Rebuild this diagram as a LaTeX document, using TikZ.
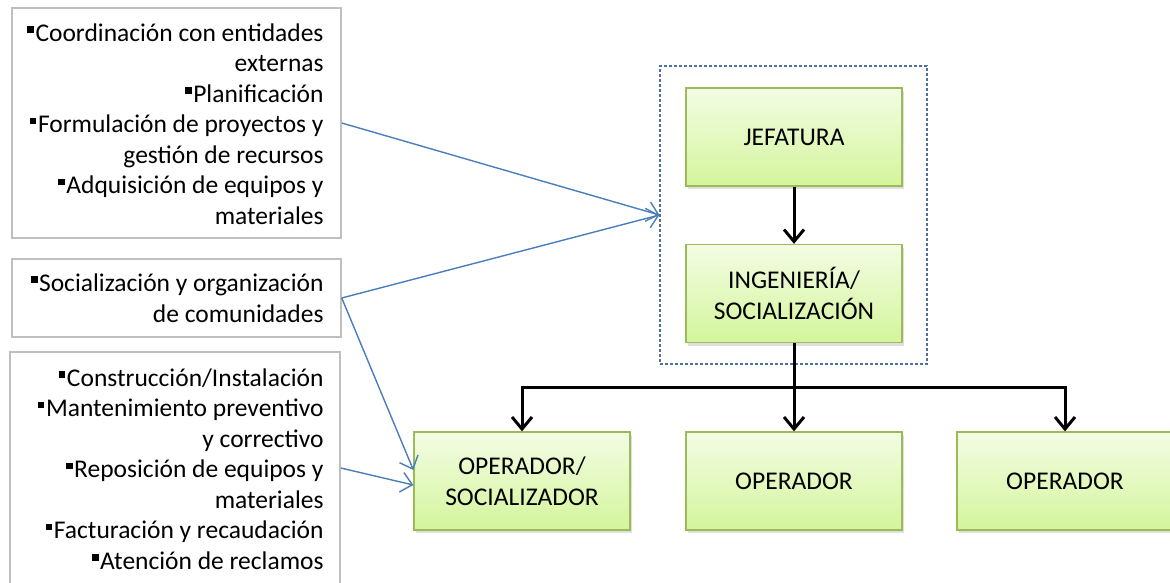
\documentclass[tikz,border=0pt]{standalone}
\usepackage{fontspec}
\setmainfont{Carlito}
\usetikzlibrary{arrows.meta,shadows}
\definecolor{greyline}{RGB}{191,191,191}
\definecolor{greenline}{RGB}{155,187,89}
\definecolor{greentop}{RGB}{243,252,228}
\definecolor{greenbot}{RGB}{212,245,156}
\definecolor{linkblue}{RGB}{74,126,187}
\definecolor{groupblue}{RGB}{79,111,160}
\newcommand\bul{\raisebox{0.33em}{\rule{0.26em}{0.26em}}\kern0.06em}
\tikzset{
  listbox/.style={draw=greyline, line width=1.5pt, fill=white, inner sep=0pt},
  listtext/.style={anchor=east, align=right, inner sep=0pt,
    font=\fontsize{25.5}{30.5}\selectfont},
  unit/.style={draw=greenline, line width=1.3pt, top color=greentop, bottom color=greenbot,
    minimum width=216pt, minimum height=98pt, inner sep=0pt, align=center,
    font=\fontsize{25.5}{30.5}\selectfont,
    drop shadow={opacity=0.25, shadow xshift=2pt, shadow yshift=-3pt}},
  group/.style={draw=groupblue, line width=1.2pt, dashed, dash pattern=on 3pt off 2pt,
    minimum width=267pt, minimum height=298pt, inner sep=0pt},
  link/.style={draw=linkblue, line width=1.4pt, -{Straight Barb[length=11pt,width=20pt,line width=1.4pt]}},
  flow/.style={draw=black, line width=3pt, -{Straight Barb[length=12pt,width=20pt]}},
  bus/.style={draw=black, line width=3pt}
}
\begin{document}
\begin{tikzpicture}[x=1pt,y=-1pt]
\useasboundingbox (0,0) rectangle (1170,583);
\clip (0,0) rectangle (1170,583);

% task lists on the left
\node[listbox, minimum width=329pt, minimum height=230pt] (b1) at (176.5,123) {};
\node[listtext] (t1) at ([xshift=-18pt,yshift=-1pt]b1.east) {\bul Coordinación con entidades\\ externas\\ \bul Planificación\\ \bul Formulación de proyectos y\\ gestión de recursos\\ \bul Adquisición de equipos y\\ materiales};

\node[listbox, minimum width=329pt, minimum height=78pt] (b2) at (176.5,298) {};
\node[listtext] (t2) at ([xshift=-18pt]b2.east) {\bul Socialización y organización\\ de comunidades};

\node[listbox, minimum width=330pt, minimum height=232pt] (b3) at (175,468) {};
\node[listtext] (t3) at ([xshift=-17pt,yshift=-1pt]b3.east) {\bul Construcción/Instalación\\ \bul Mantenimiento preventivo\\ y correctivo\\ \bul Reposición de equipos y\\ materiales\\ \bul Facturación y recaudación\\ \bul Atención de reclamos};

% organisation chart
\node[group] (grp) at (793.5,215) {};
\node[unit] (jef) at (794,137) {JEFATURA};
\node[unit] (ing) at (794,293.5) {INGENIERÍA/\\SOCIALIZACIÓN};
\node[unit] (op1) at (522,481) {OPERADOR/\\SOCIALIZADOR};
\node[unit] (op2) at (794,481) {OPERADOR};
\node[unit] (op3) at (1065,481) {OPERADOR};

\coordinate (split) at (794,387);
\draw[flow] (jef.south) -- (ing.north);
\draw[flow] (ing.south) -- (op2.north);
\draw[flow] (split) -| (op1.north);
\draw[flow] (split) -| (op3.north);

% assignments of tasks
\draw[link] (b1.east) -- (grp.west);
\draw[link] (b2.east) -- (grp.west);
\draw[link] (b2.east) -- ([yshift=11pt]op1.west);
\draw[link] (b3.east) -- ([yshift=-4pt]op1.west);
\end{tikzpicture}
\end{document}
